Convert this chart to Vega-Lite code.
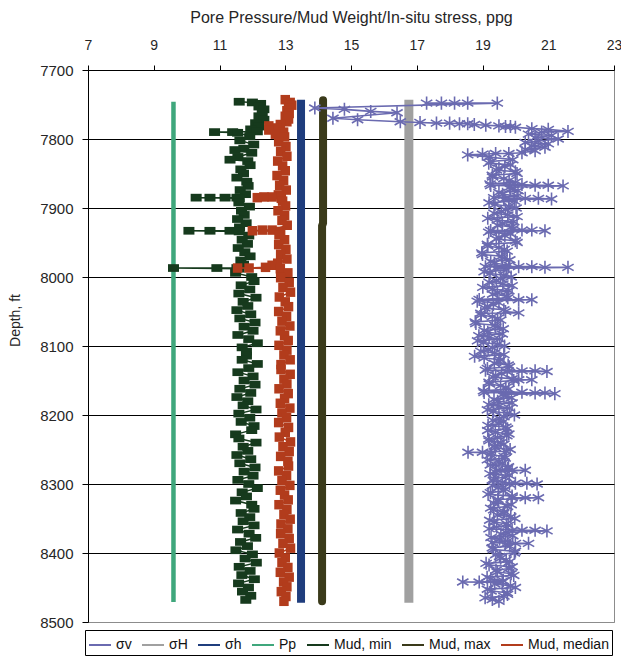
{
"$schema": "https://vega.github.io/schema/vega-lite/v6.json",
"width": 526, "height": 552,
"autosize": {"type": "none"},
"padding": {"left": 88, "top": 70, "right": 7, "bottom": 34},
"background": "white",
"config": {
 "font": "Liberation Sans",
 "view": {"stroke": "#8c8c8c"},
 "axis": {"labelFont": "Liberation Sans", "titleFont": "Liberation Sans", "labelColor": "#262626", "titleColor": "#262626", "titleFontWeight": "normal", "domainColor": "#000", "tickColor": "#000"}
},
"data": {"values": [
{"s":"Pp","d":7746,"v":9.6},{"s":"Pp","d":8471,"v":9.6},
{"s":"σh","d":7743,"v":13.48},{"s":"σh","d":8472,"v":13.48},
{"s":"σH","d":7743,"v":16.76},{"s":"σH","d":8472,"v":16.76},
{"s":"Mud, max","d":7744,"v":14.15},{"s":"Mud, max","d":7922,"v":14.15},{"s":"Mud, max","d":7926,"v":14.12},{"s":"Mud, max","d":8470,"v":14.12},
{"s":"Mud, min","d":7746,"v":11.6},{"s":"Mud, min","d":7747,"v":12.0},{"s":"Mud, min","d":7749,"v":12.25},{"s":"Mud, min","d":7753,"v":12.2},{"s":"Mud, min","d":7757,"v":12.35},{"s":"Mud, min","d":7762,"v":12.3},{"s":"Mud, min","d":7767,"v":12.2},{"s":"Mud, min","d":7772,"v":12.35},{"s":"Mud, min","d":7777,"v":12.1},{"s":"Mud, min","d":7782,"v":12.2},{"s":"Mud, min","d":7786,"v":11.95},{"s":"Mud, min","d":7789,"v":12.15},{"s":"Mud, min","d":7790,"v":11.4},{"s":"Mud, min","d":7790,"v":10.85},{"s":"Mud, min","d":7791,"v":11.55},
{"s":"Mud, min","d":7796,"v":11.92},{"s":"Mud, min","d":7802,"v":11.62},{"s":"Mud, min","d":7808,"v":12.04},{"s":"Mud, min","d":7814,"v":11.74},{"s":"Mud, min","d":7816,"v":11.47},{"s":"Mud, min","d":7820,"v":11.98},{"s":"Mud, min","d":7826,"v":11.56},{"s":"Mud, min","d":7830,"v":11.32},{"s":"Mud, min","d":7832,"v":11.86},{"s":"Mud, min","d":7838,"v":11.93},{"s":"Mud, min","d":7844,"v":11.65},{"s":"Mud, min","d":7850,"v":11.73},{"s":"Mud, min","d":7856,"v":11.53},{"s":"Mud, min","d":7862,"v":11.83},{"s":"Mud, min","d":7868,"v":11.87},{"s":"Mud, min","d":7874,"v":11.63},{"s":"Mud, min","d":7880,"v":11.79},
{"s":"Mud, min","d":7885,"v":11.53},{"s":"Mud, min","d":7885,"v":11.17},{"s":"Mud, min","d":7885,"v":10.71},{"s":"Mud, min","d":7885,"v":10.29},{"s":"Mud, min","d":7886,"v":11.6},
{"s":"Mud, min","d":7892,"v":11.59},{"s":"Mud, min","d":7898,"v":11.91},{"s":"Mud, min","d":7904,"v":11.67},{"s":"Mud, min","d":7910,"v":11.75},{"s":"Mud, min","d":7916,"v":11.55},{"s":"Mud, min","d":7922,"v":11.81},{"s":"Mud, min","d":7928,"v":11.61},
{"s":"Mud, min","d":7933,"v":11.32},{"s":"Mud, min","d":7933,"v":10.71},{"s":"Mud, min","d":7933,"v":10.07},{"s":"Mud, min","d":7934,"v":11.6},
{"s":"Mud, min","d":7940,"v":11.89},{"s":"Mud, min","d":7946,"v":11.69},{"s":"Mud, min","d":7952,"v":11.85},{"s":"Mud, min","d":7958,"v":11.57},{"s":"Mud, min","d":7964,"v":11.77},{"s":"Mud, min","d":7970,"v":11.93},{"s":"Mud, min","d":7976,"v":11.65},{"s":"Mud, min","d":7982,"v":11.73},
{"s":"Mud, min","d":7987,"v":11.53},{"s":"Mud, min","d":7987,"v":10.92},{"s":"Mud, min","d":7987,"v":9.6},{"s":"Mud, min","d":7988,"v":11.6},
{"s":"Mud, min","d":7994,"v":11.49},{"s":"Mud, min","d":8000,"v":11.98},{"s":"Mud, min","d":8006,"v":12.05},{"s":"Mud, min","d":8012,"v":11.66},{"s":"Mud, min","d":8018,"v":11.92},{"s":"Mud, min","d":8024,"v":11.59},{"s":"Mud, min","d":8030,"v":12.11},{"s":"Mud, min","d":8036,"v":11.72},{"s":"Mud, min","d":8042,"v":11.86},{"s":"Mud, min","d":8048,"v":11.53},{"s":"Mud, min","d":8054,"v":11.95},{"s":"Mud, min","d":8060,"v":11.62},{"s":"Mud, min","d":8066,"v":12.08},{"s":"Mud, min","d":8072,"v":11.75},{"s":"Mud, min","d":8078,"v":12.02},{"s":"Mud, min","d":8084,"v":11.56},{"s":"Mud, min","d":8090,"v":11.89},{"s":"Mud, min","d":8096,"v":12.15},{"s":"Mud, min","d":8102,"v":11.69},{"s":"Mud, min","d":8108,"v":11.82},
{"s":"Mud, min","d":8114,"v":11.82},{"s":"Mud, min","d":8120,"v":11.69},{"s":"Mud, min","d":8126,"v":12.15},{"s":"Mud, min","d":8132,"v":11.89},{"s":"Mud, min","d":8138,"v":11.56},{"s":"Mud, min","d":8144,"v":12.02},{"s":"Mud, min","d":8150,"v":11.75},{"s":"Mud, min","d":8156,"v":12.08},{"s":"Mud, min","d":8162,"v":11.62},{"s":"Mud, min","d":8168,"v":11.95},{"s":"Mud, min","d":8174,"v":11.53},{"s":"Mud, min","d":8180,"v":11.86},{"s":"Mud, min","d":8186,"v":11.72},{"s":"Mud, min","d":8192,"v":12.11},{"s":"Mud, min","d":8198,"v":11.59},{"s":"Mud, min","d":8204,"v":11.92},{"s":"Mud, min","d":8210,"v":11.66},{"s":"Mud, min","d":8216,"v":12.05},{"s":"Mud, min","d":8222,"v":11.98},{"s":"Mud, min","d":8228,"v":11.49},
{"s":"Mud, min","d":8234,"v":11.59},{"s":"Mud, min","d":8240,"v":12.11},{"s":"Mud, min","d":8246,"v":11.72},{"s":"Mud, min","d":8252,"v":11.86},{"s":"Mud, min","d":8258,"v":11.53},{"s":"Mud, min","d":8264,"v":11.95},{"s":"Mud, min","d":8270,"v":11.62},{"s":"Mud, min","d":8276,"v":12.08},{"s":"Mud, min","d":8282,"v":11.75},{"s":"Mud, min","d":8288,"v":12.02},{"s":"Mud, min","d":8294,"v":11.56},{"s":"Mud, min","d":8300,"v":11.89},{"s":"Mud, min","d":8306,"v":12.15},{"s":"Mud, min","d":8312,"v":11.69},{"s":"Mud, min","d":8318,"v":11.82},{"s":"Mud, min","d":8324,"v":11.49},{"s":"Mud, min","d":8330,"v":11.98},{"s":"Mud, min","d":8336,"v":12.05},{"s":"Mud, min","d":8342,"v":11.66},{"s":"Mud, min","d":8348,"v":11.92},
{"s":"Mud, min","d":8354,"v":11.72},{"s":"Mud, min","d":8360,"v":12.05},{"s":"Mud, min","d":8366,"v":11.55},{"s":"Mud, min","d":8372,"v":11.9},{"s":"Mud, min","d":8378,"v":12.1},{"s":"Mud, min","d":8384,"v":11.64},{"s":"Mud, min","d":8390,"v":11.85},{"s":"Mud, min","d":8396,"v":11.5},{"s":"Mud, min","d":8402,"v":12.0},{"s":"Mud, min","d":8408,"v":11.78},{"s":"Mud, min","d":8414,"v":12.12},{"s":"Mud, min","d":8420,"v":11.6},{"s":"Mud, min","d":8426,"v":11.93},{"s":"Mud, min","d":8432,"v":11.68},{"s":"Mud, min","d":8438,"v":12.06},{"s":"Mud, min","d":8444,"v":11.58},{"s":"Mud, min","d":8450,"v":11.88},{"s":"Mud, min","d":8456,"v":11.7},{"s":"Mud, min","d":8462,"v":11.95},{"s":"Mud, min","d":8468,"v":11.8},
{"s":"Mud, median","d":7743,"v":13.0},{"s":"Mud, median","d":7747,"v":13.15},{"s":"Mud, median","d":7751,"v":13.2},{"s":"Mud, median","d":7755,"v":13.1},{"s":"Mud, median","d":7759,"v":13.05},{"s":"Mud, median","d":7763,"v":13.12},{"s":"Mud, median","d":7767,"v":13.0},{"s":"Mud, median","d":7771,"v":13.1},{"s":"Mud, median","d":7775,"v":13.05},
{"s":"Mud, median","d":7779,"v":12.85},{"s":"Mud, median","d":7781,"v":12.5},{"s":"Mud, median","d":7784,"v":12.75},{"s":"Mud, median","d":7787,"v":12.5},{"s":"Mud, median","d":7790,"v":12.95},{"s":"Mud, median","d":7793,"v":12.7},
{"s":"Mud, median","d":7797,"v":12.98},{"s":"Mud, median","d":7804,"v":12.8},{"s":"Mud, median","d":7811,"v":13.02},{"s":"Mud, median","d":7818,"v":12.86},{"s":"Mud, median","d":7825,"v":13.05},{"s":"Mud, median","d":7832,"v":12.77},{"s":"Mud, median","d":7839,"v":12.92},{"s":"Mud, median","d":7846,"v":13.0},{"s":"Mud, median","d":7853,"v":12.75},{"s":"Mud, median","d":7860,"v":12.95},{"s":"Mud, median","d":7867,"v":12.83},{"s":"Mud, median","d":7874,"v":13.03},{"s":"Mud, median","d":7881,"v":12.79},
{"s":"Mud, median","d":7884,"v":12.6},{"s":"Mud, median","d":7884,"v":12.35},{"s":"Mud, median","d":7885,"v":12.15},{"s":"Mud, median","d":7886,"v":12.88},
{"s":"Mud, median","d":7890,"v":12.92},{"s":"Mud, median","d":7897,"v":13.01},{"s":"Mud, median","d":7904,"v":12.78},{"s":"Mud, median","d":7911,"v":12.98},{"s":"Mud, median","d":7918,"v":12.9},{"s":"Mud, median","d":7925,"v":13.06},
{"s":"Mud, median","d":7932,"v":12.6},{"s":"Mud, median","d":7932,"v":12.3},{"s":"Mud, median","d":7933,"v":12.0},{"s":"Mud, median","d":7934,"v":12.86},
{"s":"Mud, median","d":7939,"v":12.81},{"s":"Mud, median","d":7946,"v":12.98},{"s":"Mud, median","d":7953,"v":12.8},{"s":"Mud, median","d":7960,"v":13.02},{"s":"Mud, median","d":7967,"v":12.86},{"s":"Mud, median","d":7974,"v":13.05},{"s":"Mud, median","d":7980,"v":12.77},
{"s":"Mud, median","d":7983,"v":12.6},{"s":"Mud, median","d":7986,"v":12.4},{"s":"Mud, median","d":7987,"v":11.9},{"s":"Mud, median","d":7987,"v":11.55},{"s":"Mud, median","d":7988,"v":12.85},
{"s":"Mud, median","d":7994,"v":13.08},{"s":"Mud, median","d":8001,"v":12.86},{"s":"Mud, median","d":8008,"v":13.12},{"s":"Mud, median","d":8015,"v":12.93},{"s":"Mud, median","d":8022,"v":13.16},{"s":"Mud, median","d":8029,"v":12.82},{"s":"Mud, median","d":8036,"v":13.0},{"s":"Mud, median","d":8043,"v":13.1},{"s":"Mud, median","d":8050,"v":12.8},{"s":"Mud, median","d":8057,"v":13.04},{"s":"Mud, median","d":8064,"v":12.9},{"s":"Mud, median","d":8071,"v":13.14},{"s":"Mud, median","d":8078,"v":12.85},{"s":"Mud, median","d":8085,"v":12.98},{"s":"Mud, median","d":8092,"v":13.09},{"s":"Mud, median","d":8099,"v":12.81},{"s":"Mud, median","d":8106,"v":13.05},{"s":"Mud, median","d":8113,"v":12.96},{"s":"Mud, median","d":8120,"v":13.15},{"s":"Mud, median","d":8127,"v":12.87},
{"s":"Mud, median","d":8134,"v":12.87},{"s":"Mud, median","d":8141,"v":13.15},{"s":"Mud, median","d":8148,"v":12.96},{"s":"Mud, median","d":8155,"v":13.05},{"s":"Mud, median","d":8162,"v":12.81},{"s":"Mud, median","d":8169,"v":13.09},{"s":"Mud, median","d":8176,"v":12.98},{"s":"Mud, median","d":8183,"v":12.85},{"s":"Mud, median","d":8190,"v":13.14},{"s":"Mud, median","d":8197,"v":12.9},{"s":"Mud, median","d":8204,"v":13.04},{"s":"Mud, median","d":8211,"v":12.8},{"s":"Mud, median","d":8218,"v":13.1},{"s":"Mud, median","d":8225,"v":13.0},{"s":"Mud, median","d":8232,"v":12.82},{"s":"Mud, median","d":8239,"v":13.16},{"s":"Mud, median","d":8246,"v":12.93},{"s":"Mud, median","d":8253,"v":13.12},{"s":"Mud, median","d":8260,"v":12.86},{"s":"Mud, median","d":8267,"v":13.08},
{"s":"Mud, median","d":8274,"v":13.1},{"s":"Mud, median","d":8281,"v":12.8},{"s":"Mud, median","d":8288,"v":13.04},{"s":"Mud, median","d":8295,"v":12.9},{"s":"Mud, median","d":8302,"v":13.14},{"s":"Mud, median","d":8309,"v":12.85},{"s":"Mud, median","d":8316,"v":12.98},{"s":"Mud, median","d":8323,"v":13.09},{"s":"Mud, median","d":8330,"v":12.81},{"s":"Mud, median","d":8337,"v":13.05},{"s":"Mud, median","d":8344,"v":12.96},{"s":"Mud, median","d":8351,"v":13.15},{"s":"Mud, median","d":8358,"v":12.87},{"s":"Mud, median","d":8365,"v":13.08},{"s":"Mud, median","d":8372,"v":12.86},{"s":"Mud, median","d":8379,"v":13.12},{"s":"Mud, median","d":8386,"v":12.93},{"s":"Mud, median","d":8393,"v":13.16},{"s":"Mud, median","d":8400,"v":12.82},{"s":"Mud, median","d":8407,"v":13.0},
{"s":"Mud, median","d":8414,"v":12.9},{"s":"Mud, median","d":8421,"v":13.08},{"s":"Mud, median","d":8428,"v":12.85},{"s":"Mud, median","d":8435,"v":13.12},{"s":"Mud, median","d":8442,"v":12.95},{"s":"Mud, median","d":8449,"v":13.05},{"s":"Mud, median","d":8456,"v":12.88},{"s":"Mud, median","d":8463,"v":13.02},{"s":"Mud, median","d":8470,"v":12.96},
{"s":"σv","d":7748,"v":17.3},{"s":"σv","d":7748,"v":17.75},{"s":"σv","d":7748,"v":18.15},{"s":"σv","d":7748,"v":18.55},{"s":"σv","d":7748,"v":19.45},
{"s":"σv","d":7755,"v":13.9},{"s":"σv","d":7757,"v":14.8},{"s":"σv","d":7760,"v":15.6},{"s":"σv","d":7762,"v":16.4},{"s":"σv","d":7770,"v":14.45},{"s":"σv","d":7772,"v":15.2},
{"s":"σv","d":7775,"v":16.5},{"s":"σv","d":7776,"v":17.1},{"s":"σv","d":7777,"v":17.6},{"s":"σv","d":7777,"v":18.0},{"s":"σv","d":7778,"v":18.3},{"s":"σv","d":7778,"v":18.55},{"s":"σv","d":7779,"v":18.75},{"s":"σv","d":7780,"v":19.1},{"s":"σv","d":7781,"v":19.5},{"s":"σv","d":7782,"v":19.7},{"s":"σv","d":7782,"v":19.85},{"s":"σv","d":7783,"v":20.0},{"s":"σv","d":7785,"v":20.5},{"s":"σv","d":7786,"v":21.0},{"s":"σv","d":7789,"v":21.6},
{"s":"σv","d":7790,"v":20.8},{"s":"σv","d":7793,"v":20.4},{"s":"σv","d":7795,"v":21.1},{"s":"σv","d":7798,"v":20.6},{"s":"σv","d":7800,"v":21.3},{"s":"σv","d":7803,"v":20.7},{"s":"σv","d":7805,"v":20.3},{"s":"σv","d":7807,"v":21.0},{"s":"σv","d":7810,"v":20.5},{"s":"σv","d":7812,"v":20.9},{"s":"σv","d":7815,"v":20.3},{"s":"σv","d":7817,"v":20.6},
{"s":"σv","d":7820,"v":20.2},{"s":"σv","d":7821,"v":19.8},{"s":"σv","d":7821,"v":19.4},{"s":"σv","d":7822,"v":19.0},{"s":"σv","d":7823,"v":18.55},{"s":"σv","d":7826,"v":19.2},
{"s":"σv","d":7830,"v":19.92},{"s":"σv","d":7835,"v":19.19},{"s":"σv","d":7840,"v":19.68},{"s":"σv","d":7845,"v":19.42},{"s":"σv","d":7850,"v":20.05},{"s":"σv","d":7855,"v":19.31},{"s":"σv","d":7860,"v":19.81},
{"s":"σv","d":7865,"v":19.23},{"s":"σv","d":7866,"v":20.2},{"s":"σv","d":7867,"v":20.6},{"s":"σv","d":7867,"v":21.0},{"s":"σv","d":7868,"v":21.45},{"s":"σv","d":7870,"v":19.83},{"s":"σv","d":7875,"v":20.08},{"s":"σv","d":7880,"v":19.61},{"s":"σv","d":7885,"v":19.34},{"s":"σv","d":7886,"v":20.3},{"s":"σv","d":7886,"v":20.7},{"s":"σv","d":7887,"v":21.1},{"s":"σv","d":7890,"v":19.97},
{"s":"σv","d":7895,"v":19.38},{"s":"σv","d":7900,"v":20.02},{"s":"σv","d":7905,"v":19.57},{"s":"σv","d":7910,"v":19.77},{"s":"σv","d":7915,"v":19.16},{"s":"σv","d":7920,"v":19.95},{"s":"σv","d":7925,"v":19.46},{"s":"σv","d":7930,"v":19.92},{"s":"σv","d":7932,"v":20.2},{"s":"σv","d":7932,"v":20.5},{"s":"σv","d":7933,"v":20.9},{"s":"σv","d":7935,"v":19.19},{"s":"σv","d":7940,"v":19.68},{"s":"σv","d":7945,"v":19.42},{"s":"σv","d":7950,"v":20.05},
{"s":"σv","d":7955,"v":19.16},{"s":"σv","d":7960,"v":19.66},{"s":"σv","d":7965,"v":18.98},{"s":"σv","d":7970,"v":19.58},{"s":"σv","d":7975,"v":19.83},{"s":"σv","d":7980,"v":19.36},{"s":"σv","d":7985,"v":19.09},{"s":"σv","d":7985,"v":20.1},{"s":"σv","d":7985,"v":20.5},{"s":"σv","d":7986,"v":20.9},{"s":"σv","d":7986,"v":21.6},{"s":"σv","d":7990,"v":19.72},{"s":"σv","d":7995,"v":19.23},{"s":"σv","d":8000,"v":19.87},{"s":"σv","d":8005,"v":19.42},{"s":"σv","d":8010,"v":19.62},{"s":"σv","d":8015,"v":19.01},{"s":"σv","d":8020,"v":19.8},{"s":"σv","d":8025,"v":19.31},{"s":"σv","d":8030,"v":19.77},{"s":"σv","d":8033,"v":20.1},{"s":"σv","d":8033,"v":20.5},
{"s":"σv","d":8035,"v":18.84},{"s":"σv","d":8040,"v":19.33},{"s":"σv","d":8045,"v":19.07},{"s":"σv","d":8050,"v":19.7},{"s":"σv","d":8052,"v":20.1},{"s":"σv","d":8055,"v":18.96},{"s":"σv","d":8060,"v":19.46},{"s":"σv","d":8065,"v":18.78},{"s":"σv","d":8070,"v":19.38},{"s":"σv","d":8075,"v":19.63},{"s":"σv","d":8080,"v":19.16},{"s":"σv","d":8085,"v":18.89},{"s":"σv","d":8090,"v":19.52},{"s":"σv","d":8095,"v":19.03},{"s":"σv","d":8100,"v":19.67},
{"s":"σv","d":8105,"v":19.17},{"s":"σv","d":8110,"v":19.37},{"s":"σv","d":8115,"v":18.76},{"s":"σv","d":8120,"v":19.55},
{"s":"σv","d":8125,"v":19.36},{"s":"σv","d":8130,"v":19.82},{"s":"σv","d":8135,"v":19.09},{"s":"σv","d":8136,"v":20.2},{"s":"σv","d":8136,"v":20.6},{"s":"σv","d":8137,"v":20.96},{"s":"σv","d":8140,"v":19.58},{"s":"σv","d":8145,"v":19.32},{"s":"σv","d":8149,"v":20.1},{"s":"σv","d":8149,"v":20.5},{"s":"σv","d":8150,"v":19.95},{"s":"σv","d":8155,"v":19.21},{"s":"σv","d":8160,"v":19.71},{"s":"σv","d":8165,"v":19.03},{"s":"σv","d":8167,"v":20.2},{"s":"σv","d":8168,"v":20.6},{"s":"σv","d":8168,"v":20.9},{"s":"σv","d":8169,"v":21.2},{"s":"σv","d":8170,"v":19.63},{"s":"σv","d":8175,"v":19.88},
{"s":"σv","d":8180,"v":19.46},{"s":"σv","d":8185,"v":19.19},{"s":"σv","d":8190,"v":19.82},{"s":"σv","d":8195,"v":19.33},{"s":"σv","d":8200,"v":19.97},{"s":"σv","d":8205,"v":19.52},
{"s":"σv","d":8210,"v":19.63},{"s":"σv","d":8215,"v":19.17},{"s":"σv","d":8220,"v":19.76},{"s":"σv","d":8225,"v":19.39},{"s":"σv","d":8230,"v":19.74},{"s":"σv","d":8235,"v":19.19},{"s":"σv","d":8240,"v":19.56},{"s":"σv","d":8245,"v":19.36},{"s":"σv","d":8250,"v":19.84},{"s":"σv","d":8254,"v":19.0},{"s":"σv","d":8254,"v":18.56},{"s":"σv","d":8255,"v":19.28},{"s":"σv","d":8260,"v":19.66},{"s":"σv","d":8265,"v":19.15},{"s":"σv","d":8270,"v":19.6},{"s":"σv","d":8275,"v":19.79},{"s":"σv","d":8280,"v":19.43},{"s":"σv","d":8280,"v":19.9},{"s":"σv","d":8280,"v":20.3},{"s":"σv","d":8285,"v":19.23},{"s":"σv","d":8290,"v":19.7},{"s":"σv","d":8295,"v":19.33},{"s":"σv","d":8299,"v":20.0},{"s":"σv","d":8299,"v":20.35},{"s":"σv","d":8300,"v":20.66},{"s":"σv","d":8300,"v":19.82},{"s":"σv","d":8305,"v":19.48},{"s":"σv","d":8310,"v":19.63},{"s":"σv","d":8315,"v":19.17},
{"s":"σv","d":8320,"v":19.9},{"s":"σv","d":8320,"v":20.3},{"s":"σv","d":8320,"v":20.7},{"s":"σv","d":8325,"v":19.48},{"s":"σv","d":8330,"v":19.87},{"s":"σv","d":8335,"v":19.25},{"s":"σv","d":8340,"v":19.67},{"s":"σv","d":8345,"v":19.45},{"s":"σv","d":8350,"v":19.98},{"s":"σv","d":8355,"v":19.35},{"s":"σv","d":8360,"v":19.78},{"s":"σv","d":8365,"v":19.2},{"s":"σv","d":8367,"v":20.2},{"s":"σv","d":8367,"v":20.6},{"s":"σv","d":8368,"v":20.96},{"s":"σv","d":8370,"v":19.71},{"s":"σv","d":8375,"v":19.92},{"s":"σv","d":8380,"v":19.52},{"s":"σv","d":8385,"v":19.29},{"s":"σv","d":8386,"v":20.0},{"s":"σv","d":8386,"v":20.4},{"s":"σv","d":8390,"v":19.83},
{"s":"σv","d":8395,"v":19.33},{"s":"σv","d":8400,"v":19.97},{"s":"σv","d":8405,"v":19.52},{"s":"σv","d":8410,"v":19.72},{"s":"σv","d":8415,"v":19.11},{"s":"σv","d":8420,"v":19.9},{"s":"σv","d":8425,"v":19.41},{"s":"σv","d":8430,"v":19.87},{"s":"σv","d":8435,"v":19.14},{"s":"σv","d":8440,"v":19.63},{"s":"σv","d":8442,"v":18.9},{"s":"σv","d":8442,"v":18.4},{"s":"σv","d":8445,"v":19.37},{"s":"σv","d":8450,"v":20.0},{"s":"σv","d":8455,"v":19.26},{"s":"σv","d":8460,"v":19.76},{"s":"σv","d":8465,"v":19.08},{"s":"σv","d":8470,"v":19.5},
{"s":"σv","d":7832.5,"v":19.25},{"s":"σv","d":7837.5,"v":19.85},{"s":"σv","d":7842.5,"v":19.5},{"s":"σv","d":7847.5,"v":20.0},{"s":"σv","d":7852.5,"v":19.3},{"s":"σv","d":7857.5,"v":19.65},{"s":"σv","d":7862.5,"v":20.0},{"s":"σv","d":7867.5,"v":19.25},{"s":"σv","d":7872.5,"v":19.85},{"s":"σv","d":7877.5,"v":19.5},{"s":"σv","d":7882.5,"v":20.05},{"s":"σv","d":7887.5,"v":19.65},{"s":"σv","d":7892.5,"v":19.2},{"s":"σv","d":7897.5,"v":19.8},{"s":"σv","d":7902.5,"v":19.7},{"s":"σv","d":7907.5,"v":19.35},{"s":"σv","d":7912.5,"v":20.05},{"s":"σv","d":7917.5,"v":19.45},{"s":"σv","d":7922.5,"v":19.6},{"s":"σv","d":7927.5,"v":19.88},
{"s":"σv","d":7932.5,"v":19.25},{"s":"σv","d":7937.5,"v":19.85},{"s":"σv","d":7942.5,"v":19.5},{"s":"σv","d":7947.5,"v":20.0},{"s":"σv","d":7952.5,"v":19.15},{"s":"σv","d":7957.5,"v":19.5},{"s":"σv","d":7962.5,"v":19.75},{"s":"σv","d":7967.5,"v":19.0},{"s":"σv","d":7972.5,"v":19.6},{"s":"σv","d":7977.5,"v":19.25},{"s":"σv","d":7982.5,"v":19.8},{"s":"σv","d":7987.5,"v":19.4},{"s":"σv","d":7992.5,"v":19.05},{"s":"σv","d":7997.5,"v":19.65},{"s":"σv","d":8002.5,"v":19.55},{"s":"σv","d":8007.5,"v":19.2},{"s":"σv","d":8012.5,"v":19.9},{"s":"σv","d":8017.5,"v":19.3},{"s":"σv","d":8022.5,"v":19.45},{"s":"σv","d":8027.5,"v":19.73},
{"s":"σv","d":8032.5,"v":18.9},{"s":"σv","d":8037.5,"v":19.5},{"s":"σv","d":8042.5,"v":19.15},{"s":"σv","d":8047.5,"v":19.65},{"s":"σv","d":8052.5,"v":18.95},{"s":"σv","d":8057.5,"v":19.3},{"s":"σv","d":8062.5,"v":19.55},{"s":"σv","d":8067.5,"v":18.8},{"s":"σv","d":8072.5,"v":19.4},{"s":"σv","d":8077.5,"v":19.05},{"s":"σv","d":8082.5,"v":19.6},{"s":"σv","d":8087.5,"v":19.2},{"s":"σv","d":8092.5,"v":18.85},{"s":"σv","d":8097.5,"v":19.45},{"s":"σv","d":8102.5,"v":19.3},{"s":"σv","d":8107.5,"v":18.95},{"s":"σv","d":8112.5,"v":19.65},{"s":"σv","d":8117.5,"v":19.05},{"s":"σv","d":8122.5,"v":19.5},{"s":"σv","d":8127.5,"v":19.78},
{"s":"σv","d":8132.5,"v":19.15},{"s":"σv","d":8137.5,"v":19.75},{"s":"σv","d":8142.5,"v":19.4},{"s":"σv","d":8147.5,"v":19.9},{"s":"σv","d":8152.5,"v":19.2},{"s":"σv","d":8157.5,"v":19.55},{"s":"σv","d":8162.5,"v":19.8},{"s":"σv","d":8167.5,"v":19.05},{"s":"σv","d":8172.5,"v":19.65},{"s":"σv","d":8177.5,"v":19.35},{"s":"σv","d":8182.5,"v":19.9},{"s":"σv","d":8187.5,"v":19.5},{"s":"σv","d":8192.5,"v":19.15},{"s":"σv","d":8197.5,"v":19.75},{"s":"σv","d":8202.5,"v":19.65},{"s":"σv","d":8207.5,"v":19.31},{"s":"σv","d":8212.5,"v":19.5},{"s":"σv","d":8217.5,"v":19.71},{"s":"σv","d":8222.5,"v":19.16},{"s":"σv","d":8227.5,"v":19.8},
{"s":"σv","d":8232.5,"v":19.46},{"s":"σv","d":8237.5,"v":19.2},{"s":"σv","d":8242.5,"v":19.65},{"s":"σv","d":8247.5,"v":19.39},{"s":"σv","d":8252.5,"v":19.73},{"s":"σv","d":8257.5,"v":19.24},{"s":"σv","d":8262.5,"v":19.69},{"s":"σv","d":8267.5,"v":19.5},{"s":"σv","d":8272.5,"v":19.24},{"s":"σv","d":8277.5,"v":19.76},{"s":"σv","d":8282.5,"v":19.39},{"s":"σv","d":8287.5,"v":19.81},{"s":"σv","d":8292.5,"v":19.35},{"s":"σv","d":8297.5,"v":19.6},{"s":"σv","d":8302.5,"v":19.3},{"s":"σv","d":8307.5,"v":19.7},{"s":"σv","d":8312.5,"v":19.24},{"s":"σv","d":8317.5,"v":19.9},{"s":"σv","d":8322.5,"v":19.47},{"s":"σv","d":8327.5,"v":19.34},
{"s":"σv","d":8332.5,"v":19.76},{"s":"σv","d":8337.5,"v":19.34},{"s":"σv","d":8342.5,"v":19.64},{"s":"σv","d":8347.5,"v":19.86},{"s":"σv","d":8352.5,"v":19.22},{"s":"σv","d":8357.5,"v":19.73},{"s":"σv","d":8362.5,"v":19.43},{"s":"σv","d":8367.5,"v":19.9},{"s":"σv","d":8372.5,"v":19.56},{"s":"σv","d":8377.5,"v":19.26},{"s":"σv","d":8382.5,"v":19.77},{"s":"σv","d":8387.5,"v":19.69},{"s":"σv","d":8392.5,"v":19.3},{"s":"σv","d":8397.5,"v":20.0},{"s":"σv","d":8402.5,"v":19.4},{"s":"σv","d":8407.5,"v":19.55},{"s":"σv","d":8412.5,"v":19.83},{"s":"σv","d":8417.5,"v":19.2},{"s":"σv","d":8422.5,"v":19.8},{"s":"σv","d":8427.5,"v":19.45},
{"s":"σv","d":8432.5,"v":19.95},{"s":"σv","d":8437.5,"v":19.25},{"s":"σv","d":8442.5,"v":19.6},{"s":"σv","d":8447.5,"v":19.85},{"s":"σv","d":8452.5,"v":19.15},{"s":"σv","d":8457.5,"v":19.75},{"s":"σv","d":8462.5,"v":19.65},{"s":"σv","d":8467.5,"v":19.3}
]},
"encoding": {
 "x": {"field": "v", "type": "quantitative", "scale": {"domain": [7, 23], "nice": false, "zero": false},
  "axis": {"orient": "top", "values": [7, 9, 11, 13, 15, 17, 19, 21, 23], "title": "Pore Pressure/Mud Weight/In-situ stress, ppg", "titleFontSize": 16, "titleX": 263, "titleY": -48, "titleBaseline": "alphabetic", "titleAlign": "center", "labelFontSize": 14, "labelPadding": 13, "tickSize": 5, "grid": false, "labelFlush": false}},
 "y": {"field": "d", "type": "quantitative", "scale": {"domain": [7700, 8500], "reverse": true, "nice": false, "zero": false},
  "axis": {"values": [7700, 7800, 7900, 8000, 8100, 8200, 8300, 8400, 8500], "format": "d", "title": "Depth, ft", "titleFontSize": 14, "titleAngle": -90, "titleX": -73, "titleY": 250, "titleBaseline": "middle", "titleAlign": "center", "labelFontSize": 15, "labelPadding": 9, "tickSize": 6, "grid": true, "gridColor": {"condition": {"test": "datum.value === 8500 || datum.value === 7700", "value": "#8c8c8c"}, "value": "#000"}, "labelFlush": false, "labelOverlap": false}},
 "color": {"field": "s", "type": "nominal",
  "scale": {"domain": ["σv", "σH", "σh", "Pp", "Mud, min", "Mud, max", "Mud, median"], "range": ["#6a6ab0", "#a0a0a0", "#1f3d7d", "#3fa77c", "#163a1d", "#3a3a1a", "#b23c1c"]},
  "legend": {"orient": "none", "legendX": -3, "legendY": 560, "direction": "horizontal", "columns": 7, "title": null,
   "strokeColor": "#000", "fillColor": "#fff", "padding": 3, "columnPadding": 6, "labelOffset": 4,
   "symbolType": "stroke", "symbolSize": 484, "symbolStrokeWidth": 2, "labelFont": "Liberation Sans", "labelFontSize": 14, "labelColor": "#111", "labelLimit": 200}}
},
"layer": [
 {"transform": [{"filter": "datum.s === 'Pp'"}], "mark": {"type": "line", "strokeWidth": 4.5, "strokeCap": "butt"}, "encoding": {"order": {"field": "d", "type": "quantitative"}}},
 {"transform": [{"filter": "datum.s === 'σh'"}], "mark": {"type": "line", "strokeWidth": 8, "strokeCap": "butt"}, "encoding": {"order": {"field": "d", "type": "quantitative"}}},
 {"transform": [{"filter": "datum.s === 'σH'"}], "mark": {"type": "line", "strokeWidth": 9, "strokeCap": "butt"}, "encoding": {"order": {"field": "d", "type": "quantitative"}}},
 {"transform": [{"filter": "datum.s === 'Mud, max'"}], "mark": {"type": "line", "strokeWidth": 8, "strokeCap": "round"}, "encoding": {"order": {"field": "d", "type": "quantitative"}}},
 {"transform": [{"filter": "datum.s === 'Mud, min'"}], "mark": {"type": "line", "strokeWidth": 1.5}, "encoding": {"order": {"field": "d", "type": "quantitative"}}},
 {"transform": [{"filter": "datum.s === 'Mud, min'"}], "mark": {"type": "point", "shape": "M-1,-0.7H1V0.7H-1Z", "filled": true, "size": 121, "opacity": 1}},
 {"transform": [{"filter": "datum.s === 'Mud, median'"}], "mark": {"type": "line", "strokeWidth": 1.5}, "encoding": {"order": {"field": "d", "type": "quantitative"}}},
 {"transform": [{"filter": "datum.s === 'Mud, median'"}], "mark": {"type": "square", "size": 90, "opacity": 1}},
 {"transform": [{"filter": "datum.s === 'σv'"}], "mark": {"type": "line", "strokeWidth": 1.6}, "encoding": {"order": {"field": "d", "type": "quantitative"}}},
 {"transform": [{"filter": "datum.s === 'σv'"}], "mark": {"type": "point", "shape": "M0,-1V1M-0.87,-0.5L0.87,0.5M-0.87,0.5L0.87,-0.5", "filled": false, "size": 170, "strokeWidth": 1.6, "opacity": 1}}
]
}
